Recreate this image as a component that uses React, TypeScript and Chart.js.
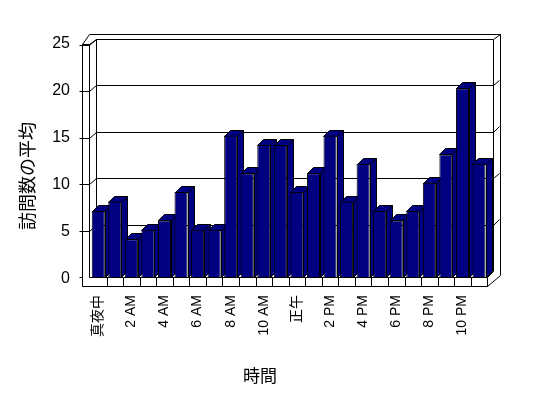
import React, { useEffect, useRef } from 'react';
import { Chart, registerables } from 'chart.js';

Chart.register(...registerables);

const hours = [
  '真夜中', '1 AM', '2 AM', '3 AM', '4 AM', '5 AM', '6 AM', '7 AM', '8 AM', '9 AM', '10 AM', '11 AM',
  '正午', '1 PM', '2 PM', '3 PM', '4 PM', '5 PM', '6 PM', '7 PM', '8 PM', '9 PM', '10 PM', '11 PM',
];
const visits = [7, 8, 4, 5, 6, 9, 5, 5, 15, 11, 14, 14, 9, 11, 15, 8, 12, 7, 6, 7, 10, 13, 20, 12];
const yTicks = [0, 5, 10, 15, 20, 25];
const xTitle = '時間';
const yTitle = '訪問数の平均';

const FONT = "'Liberation Sans', 'Noto Sans CJK JP', sans-serif";
const NAVY = '#000080';

const p = (v: number) => Math.round(v) + 0.5;

const threeD = {
  id: 'threeD',
  beforeDatasetsDraw(chart: any) {
    const ctx = chart.ctx as CanvasRenderingContext2D;
    const ca = chart.chartArea;
    const ys = chart.scales.y;
    const yMax = yTicks[yTicks.length - 1];
    const yFront = (v: number) => ys.getPixelForValue(v) + 3.8 * (v / yMax);
    const yBack = (v: number) => yFront(v) - 6;

    const outerL = ca.left - 8.5;
    const innerL = ca.left - 1;
    const backL = ca.left + 6;
    const backR = ca.right + 5.7;
    const outerR = ca.right + 12.7;
    const backTop = yBack(yMax);
    const backBot = yBack(0);
    const outerTop = backTop - 5.5;
    const wallTop = yFront(yMax) - 1;
    const floorTop = ca.bottom;
    const floorBot = ca.bottom + 9;

    ctx.save();
    ctx.strokeStyle = '#000';
    ctx.lineWidth = 1;

    const line = (pts: number[][]) => {
      ctx.beginPath();
      pts.forEach(([x, y], i) => (i ? ctx.lineTo(p(x), p(y)) : ctx.moveTo(p(x), p(y))));
      ctx.stroke();
    };

    // outer frame
    line([
      [outerL, wallTop], [innerL, outerTop], [outerR, outerTop], [outerR, floorTop - 2],
      [ca.right, floorBot], [outerL, floorBot], [outerL, wallTop],
    ]);
    // back wall inner
    line([[backL, backBot], [backL, backTop], [backR, backTop], [backR, backBot]]);
    // left wall + floor front face
    line([[outerL, wallTop], [innerL, wallTop], [innerL, floorTop], [ca.right, floorTop], [ca.right, floorBot]]);
    line([[innerL, wallTop], [backL, backTop]]);
    line([[backR, backTop], [outerR, outerTop]]);
    line([[ca.right, floorTop], [backR, backBot]]);

    // gridlines
    yTicks.forEach((v) => {
      const yf = yFront(v);
      const yb = yBack(v);
      if (v === 0) {
        line([[outerL - 3, yf], [outerL, yf]]);
        return;
      }
      line([[outerL - 3, yf], [innerL, yf], [backL, yb]]);
      if (v !== yMax) {
        line([[backL, yb], [backR, yb]]);
        line([[backR, yb], [outerR - 1, yb - 5.5]]);
      }
    });

    // floor category ticks
    const n = hours.length;
    const cw = (ca.right - ca.left) / n;
    for (let k = 1; k < n; k++) {
      const x = ca.left + k * cw;
      line([[x, floorTop], [x, floorBot]]);
    }

    // bar side and top faces
    const meta = chart.getDatasetMeta(0);
    const D = 6;
    ctx.fillStyle = NAVY;
    meta.data.forEach((bar: any) => {
      const { x, y, base, width } = bar.getProps(['x', 'y', 'base', 'width'], true);
      const L = Math.round(x - width / 2);
      const R = Math.round(x + width / 2);
      const T = Math.round(y);
      const B = Math.round(base);
      ctx.beginPath();
      ctx.moveTo(p(R), p(T));
      ctx.lineTo(p(R + D), p(T - D));
      ctx.lineTo(p(R + D), p(B - D));
      ctx.lineTo(p(R), p(B));
      ctx.closePath();
      ctx.fill();
      ctx.stroke();
      ctx.beginPath();
      ctx.moveTo(p(L), p(T));
      ctx.lineTo(p(L + D), p(T - D));
      ctx.lineTo(p(R + D), p(T - D));
      ctx.lineTo(p(R), p(T));
      ctx.closePath();
      ctx.fill();
      ctx.stroke();
    });
    ctx.restore();
  },
  afterDraw(chart: any) {
    const ctx = chart.ctx as CanvasRenderingContext2D;
    ctx.save();
    ctx.fillStyle = '#000';
    ctx.textAlign = 'center';
    ctx.textBaseline = 'middle';
    ctx.font = `17px ${FONT}`;
    ctx.fillText(xTitle, 260, 377);
    ctx.translate(29, 176);
    ctx.rotate(-Math.PI / 2);
    ctx.font = `18px ${FONT}`;
    ctx.fillText(yTitle, 0, 0);
    ctx.restore();
  },
};

export default function App() {
  const ref = useRef<HTMLCanvasElement | null>(null);
  useEffect(() => {
    if (!ref.current) return;
    const chart = new Chart(ref.current, {
      type: 'bar',
      data: {
        labels: hours,
        datasets: [
          {
            data: visits,
            backgroundColor: NAVY,
            borderColor: '#000',
            borderWidth: 1,
            barPercentage: 0.79,
            categoryPercentage: 1,
          },
        ],
      },
      options: {
        responsive: false,
        animation: false,
        devicePixelRatio: 1,
        layout: { padding: { top: 41.2, right: 60.7, left: 0, bottom: 0 } },
        plugins: { legend: { display: false }, tooltip: { enabled: false }, title: { display: false } },
        scales: {
          x: {
            ticks: {
              autoSkip: false,
              maxRotation: 90,
              minRotation: 90,
              padding: 18,
              color: '#000',
              font: { family: FONT, size: 14 },
              callback: (_v: any, i: number) => (i % 2 === 0 ? hours[i] : ''),
            },
            grid: { display: false, drawTicks: false },
            border: { display: false },
            afterFit: (s: any) => {
              s.height = 121;
            },
          },
          y: {
            min: 0,
            max: 25,
            afterBuildTicks: (s: any) => {
              s.ticks = yTicks.map((v) => ({ value: v }));
            },
            ticks: {
              padding: 20,
              labelOffset: 2,
              color: '#000',
              font: { family: FONT, size: 16 },
            },
            grid: { display: false, drawTicks: false },
            border: { display: false },
            afterFit: (s: any) => {
              s.width = 90;
            },
          },
        },
      },
      plugins: [threeD],
    });
    return () => chart.destroy();
  }, []);
  return (
    <div style={{ position: 'absolute', left: 0, top: 0, width: 548, height: 398, background: '#fff' }}>
      <canvas ref={ref} width={548} height={398} />
    </div>
  );
}
